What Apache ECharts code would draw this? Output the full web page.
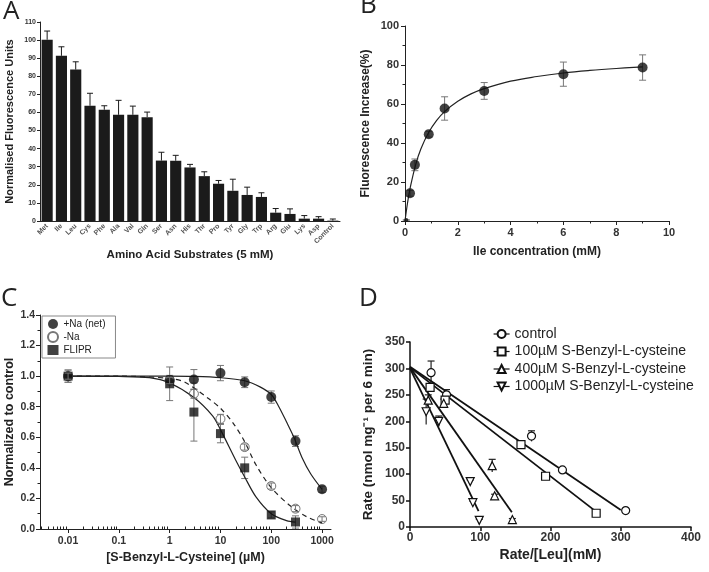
<!DOCTYPE html>
<html><head><meta charset="utf-8">
<script src="https://cdn.jsdelivr.net/npm/echarts@6/dist/echarts.min.js"></script>
<style>html,body{margin:0;padding:0;background:#fff}#c{width:709px;height:572px}</style>
</head><body><div id="c"></div>
<script>
// ---------- Panel A ----------
const aCategories = ['Met','Ile','Leu','Cys','Phe','Ala','Val','Gln','Ser','Asn','His','Thr','Pro','Tyr','Gly','Trp','Arg','Glu','Lys','Asp','Control'];
const aValues = [100.2, 91.3, 83.7, 63.7, 61.5, 58.7, 58.7, 57.4, 33.4, 33.3, 29.6, 24.8, 20.6, 16.7, 14.4, 13.3, 4.6, 3.9, 1.3, 1.3, 0.2];
const aErrors = [4.8, 5.0, 4.3, 6.9, 2.2, 8.0, 4.8, 2.8, 4.6, 3.0, 1.7, 2.4, 1.8, 6.4, 4.3, 2.3, 2.3, 2.8, 1.7, 1.1, 0.9];

// ---------- Panel B ----------
const bConc = [0.05, 0.19, 0.375, 0.9, 1.5, 3, 6, 9];
const bValues = [0.5, 14.2, 28.8, 44.5, 57.7, 66.7, 75.3, 78.7];
const bErrors = [0, 1.5, 3.0, 1.5, 6.0, 4.3, 6.2, 6.5];
const bFitX = [0, 0.1, 0.2, 0.4, 0.6, 0.9, 1.2, 1.5, 2, 2.5, 3, 4, 5, 6, 7, 8, 9];
const bFitY = [0, 9.6, 17.2, 28.7, 36.9, 45.5, 51.6, 56.1, 61.4, 65.2, 67.9, 71.7, 74.1, 75.9, 77.2, 78.2, 79.0];

// ---------- Panel C ----------
const cConc = [0.01, 1, 3, 10, 30, 100, 300, 1000];
const cNaNet = [1.0, 0.975, 0.978, 1.02, 0.96, 0.863, 0.575, 0.26];
const cNaNetErr = [0.04, 0.03, 0.065, 0.05, 0.035, 0.04, 0.035, 0.02];
const cNoNa = [1.0, 0.97, 0.885, 0.72, 0.536, 0.281, 0.133, 0.065];
const cNoNaErr = [0.02, 0.02, 0.03, 0.03, 0.02, 0.02, 0.02, 0.015];
const cFliprConc = [0.01, 1, 3, 10, 30, 100, 300];
const cFlipr = [1.0, 0.95, 0.765, 0.624, 0.40, 0.092, 0.046];
const cFliprErr = [0.04, 0.11, 0.19, 0.06, 0.07, 0.02, 0.04];
const cFitNaNetX = [0.01, 0.1, 1, 3, 10, 30, 60, 100, 141, 200, 279, 400, 600, 1000];
const cFitNaNetY = [1.0, 1.0, 1.0, 0.998, 0.99, 0.97, 0.93, 0.88, 0.80, 0.70, 0.60, 0.47, 0.36, 0.26];
const cFitNoNaX = [0.01, 0.1, 1, 2, 6, 10, 18, 29, 50, 100, 240, 500, 1000];
const cFitNoNaY = [1.0, 1.0, 0.985, 0.96, 0.85, 0.79, 0.69, 0.58, 0.42, 0.27, 0.15, 0.08, 0.04];
const cFitFliprX = [0.01, 0.1, 0.4, 1, 3, 7, 10, 20, 30, 50, 100, 200, 300];
const cFitFliprY = [1.0, 0.998, 0.99, 0.955, 0.86, 0.74, 0.65, 0.45, 0.34, 0.21, 0.10, 0.055, 0.045];
const cMajorTicks = [0.01, 0.1, 1, 10, 100, 1000];
const cMinorTicks = [0.003,0.004,0.005,0.006,0.007,0.008,0.009,0.02,0.03,0.04,0.05,0.06,0.07,0.08,0.09,0.2,0.3,0.4,0.5,0.6,0.7,0.8,0.9,2,3,4,5,6,7,8,9,20,30,40,50,60,70,80,90,200,300,400,500,600,700,800,900];

// ---------- Panel D ----------
const dNames = ['control', '100µM S-Benzyl-L-cysteine', '400µM S-Benzyl-L-cysteine', '1000µM S-Benzyl-L-cysteine'];
const dX = [
  [30, 52, 173, 217, 307],
  [28.6, 50, 158, 193, 265],
  [26, 48, 117, 120.5, 145.7],
  [23, 41, 85.7, 89.5, 98.6]
];
const dY = [
  [292, 250, 172, 108, 31],
  [264, 240, 156, 96, 26],
  [240, 234, 116, 59, 14],
  [218, 200, 86, 46, 12.5]
];
const dErr = [
  [22, 10, 10, 4, 3],
  [5, 5, 3, 3, 3],
  [10, 8, 12, 3, 2],
  [24, 10, 3, 3, 2]
];
const dFitStart = [[0, 303], [0, 302], [0, 302], [0, 300]];
const dFitEnd = [[300, 32], [264, 30], [145, 28], [97.6, 30]];

// ---------- helpers ----------
const FONT = '"Liberation Sans", Arial, sans-serif';
const zip = (xs, ys) => xs.map((x, i) => [x, ys[i]]);

function errSeries(xi, yi, rows, color, capHalf, lw, bottomCap, z) {
  return {
    type: 'custom', xAxisIndex: xi, yAxisIndex: yi, silent: true, z: z || 2,
    data: rows, encode: { x: 0, y: [1, 2] },
    renderItem: function (params, api) {
      const x = api.value(0), lo = api.value(1), hi = api.value(2);
      const p1 = api.coord([x, lo]), p2 = api.coord([x, hi]);
      const st = { stroke: color, lineWidth: lw };
      const ch = [
        { type: 'line', shape: { x1: p1[0], y1: p1[1], x2: p2[0], y2: p2[1] }, style: st },
        { type: 'line', shape: { x1: p2[0] - capHalf, y1: p2[1], x2: p2[0] + capHalf, y2: p2[1] }, style: st }
      ];
      if (bottomCap) ch.push({ type: 'line', shape: { x1: p1[0] - capHalf, y1: p1[1], x2: p1[0] + capHalf, y2: p1[1] }, style: st });
      return { type: 'group', children: ch };
    }
  };
}
const symErr = (xs, ys, es) => xs.map((x, i) => [x, ys[i] - es[i], ys[i] + es[i]]);

const axLine = { show: true, lineStyle: { color: '#222', width: 1 } };
const nameStyle = (fs) => ({ fontSize: fs, fontWeight: 'bold', color: '#222', fontFamily: FONT });
const lab = (fs, extra) => Object.assign({ fontSize: fs, fontWeight: 'bold', color: '#333', fontFamily: FONT }, extra || {});

const option = {
  animation: false,
  backgroundColor: '#fff',
  title: [
    { text: 'A', left: 3, top: -1 },
    { text: 'B', left: 360, top: -7 },
    { text: 'C', left: 1, top: 286 },
    { text: 'D', left: 359, top: 286 }
  ].map(t => Object.assign(t, { padding: 0, textStyle: { fontSize: 26, fontWeight: 'normal', color: '#222', fontFamily: '"Open Sans", sans-serif' } })),
  grid: [
    { left: 40, top: 22, width: 300, height: 199 },
    { left: 405, top: 26, width: 264, height: 195 },
    { left: 40, top: 315, width: 291, height: 214 },
    { left: 410, top: 342, width: 281, height: 185 }
  ],
  legend: [
    {
      data: ['+Na (net)', '-Na', 'FLIPR'], left: 42, top: 316, orient: 'vertical',
      itemGap: 2, itemWidth: 11, itemHeight: 10, padding: [3, 10, 3, 5],
      borderColor: '#888', borderWidth: 1, backgroundColor: '#fff',
      textStyle: { fontSize: 10, color: '#222', fontFamily: FONT }
    },
    {
      data: dNames, left: 488, top: 322, orient: 'vertical',
      itemGap: 3.5, itemWidth: 16, itemHeight: 10,
      textStyle: { fontSize: 14, color: '#222', fontFamily: FONT },
      lineStyle: { color: '#111', width: 1.2, opacity: 1 }
    }
  ],
  xAxis: [
    {
      type: 'category', gridIndex: 0, data: aCategories,
      axisLine: axLine, axisTick: { alignWithLabel: true, length: 3, lineStyle: { color: '#222' } },
      axisLabel: lab(7, { interval: 0, rotate: 45, color: '#555', margin: 4 }),
      name: 'Amino Acid Substrates (5 mM)', nameLocation: 'middle', nameGap: 28, nameTextStyle: nameStyle(11.5)
    },
    {
      type: 'value', gridIndex: 1, min: 0, max: 10, interval: 2,
      axisLine: axLine, axisTick: { length: 4, lineStyle: { color: '#222' } },
      minorTick: { show: true, splitNumber: 2, length: 2.5, lineStyle: { color: '#222' } },
      splitLine: { show: false }, axisLabel: lab(11, { margin: 6 }),
      name: 'Ile concentration (mM)', nameLocation: 'middle', nameGap: 25, nameTextStyle: nameStyle(12)
    },
    {
      type: 'log', gridIndex: 2, min: 0.0028, max: 1500,
      axisLine: axLine,
      axisTick: { customValues: cMajorTicks, length: 4, lineStyle: { color: '#222' } },
      axisLabel: lab(10.5, { customValues: cMajorTicks, margin: 7, formatter: v => String(+v.toPrecision(3)) }),
      splitLine: { show: false },
      name: '[S-Benzyl-L-Cysteine] (µM)', nameLocation: 'middle', nameGap: 22, nameTextStyle: nameStyle(12.5)
    },
    {
      type: 'log', gridIndex: 2, min: 0.0028, max: 1500, position: 'bottom',
      axisLine: { show: false }, axisLabel: { show: false }, splitLine: { show: false },
      axisTick: { customValues: cMinorTicks, length: 2.5, inside: true, lineStyle: { color: '#222' } }
    },
    {
      type: 'value', gridIndex: 3, min: 0, max: 400, interval: 100,
      axisLine: { show: true, lineStyle: { color: '#111', width: 1.5 } },
      axisTick: { length: 4, lineStyle: { color: '#111', width: 1.5 } },
      splitLine: { show: false }, axisLabel: lab(12, { margin: 5 }),
      name: 'Rate/[Leu](mM)', nameLocation: 'middle', nameGap: 21, nameTextStyle: nameStyle(14)
    }
  ],
  yAxis: [
    {
      type: 'value', gridIndex: 0, min: 0, max: 110, interval: 10,
      axisLine: axLine, axisTick: { show: true, length: 3, lineStyle: { color: '#222' } },
      splitLine: { show: false }, axisLabel: lab(7, { margin: 4 }),
      name: 'Normalised Fluorescence Units', nameLocation: 'middle', nameGap: 25, nameTextStyle: nameStyle(11)
    },
    {
      type: 'value', gridIndex: 1, min: 0, max: 100, interval: 20,
      axisLine: axLine, axisTick: { show: true, length: 4, lineStyle: { color: '#222' } },
      minorTick: { show: true, splitNumber: 2, length: 2.5, lineStyle: { color: '#222' } },
      splitLine: { show: false }, axisLabel: lab(11, { margin: 6 }),
      name: 'Fluorescence Increase(%)', nameLocation: 'middle', nameGap: 33, nameTextStyle: nameStyle(12)
    },
    {
      type: 'value', gridIndex: 2, min: 0, max: 1.4, interval: 0.2,
      axisLine: axLine, axisTick: { show: true, length: 4, lineStyle: { color: '#222' } },
      minorTick: { show: true, splitNumber: 2, length: 2.5, lineStyle: { color: '#222' } },
      splitLine: { show: false }, axisLabel: lab(10.5, { margin: 5, formatter: v => v.toFixed(1) }),
      name: 'Normalized to control', nameLocation: 'middle', nameGap: 22, nameTextStyle: nameStyle(12.5)
    },
    {
      type: 'value', gridIndex: 3, min: 0, max: 350, interval: 50,
      axisLine: { show: true, lineStyle: { color: '#111', width: 1.5 } },
      axisTick: { show: true, length: 4, lineStyle: { color: '#111', width: 1.5 } },
      splitLine: { show: false }, axisLabel: lab(12, { margin: 5 }),
      name: 'Rate (nmol mg⁻¹ per 6 min)', nameLocation: 'middle', nameGap: 35, nameTextStyle: nameStyle(13.5)
    }
  ],
  series: []
};

const S = option.series;
// A
S.push({ type: 'bar', name: 'A', xAxisIndex: 0, yAxisIndex: 0, data: aValues, barWidth: '78%', itemStyle: { color: '#1b1b1b' }, z: 2 });
S.push(errSeries(0, 0, aValues.map((v, i) => [i, v, v + aErrors[i]]), '#1b1b1b', 3, 1, false, 1));
// B
S.push({ type: 'line', name: 'B fit', xAxisIndex: 1, yAxisIndex: 1, data: zip(bFitX, bFitY), smooth: 0.4, symbol: 'none', lineStyle: { color: '#222', width: 1.2 }, z: 2 });
S.push(errSeries(1, 1, symErr(bConc, bValues, bErrors), '#777', 3.5, 1, true, 1));
S.push({ type: 'scatter', name: 'B data', xAxisIndex: 1, yAxisIndex: 1, data: zip(bConc, bValues),
  symbol: 'circle', symbolSize: (v, p) => (p.dataIndex === 0 ? 4 : 10), itemStyle: { color: '#111' }, z: 3 });
// C curves
S.push({ type: 'line', name: '+Na fit', xAxisIndex: 2, yAxisIndex: 2, data: zip(cFitNaNetX, cFitNaNetY), smooth: 0.3, symbol: 'none', lineStyle: { color: '#222', width: 1.2 }, z: 2 });
S.push({ type: 'line', name: '-Na fit', xAxisIndex: 2, yAxisIndex: 2, data: zip(cFitNoNaX, cFitNoNaY), smooth: 0.3, symbol: 'none', lineStyle: { color: '#222', width: 1.2, type: [5, 4] }, z: 2 });
S.push({ type: 'line', name: 'FLIPR fit', xAxisIndex: 2, yAxisIndex: 2, data: zip(cFitFliprX, cFitFliprY), smooth: 0.3, symbol: 'none', lineStyle: { color: '#222', width: 1.2 }, z: 2 });
S.push(errSeries(2, 2, symErr(cConc, cNaNet, cNaNetErr), '#777', 3.5, 1, true, 1));
S.push(errSeries(2, 2, symErr(cFliprConc, cFlipr, cFliprErr), '#777', 3.5, 1, true, 1));
S.push({ type: 'scatter', name: '+Na (net)', xAxisIndex: 2, yAxisIndex: 2, data: zip(cConc, cNaNet), symbol: 'circle', symbolSize: 10, itemStyle: { color: '#111' }, z: 3 });
S.push({ type: 'scatter', name: '-Na', xAxisIndex: 2, yAxisIndex: 2, data: zip(cConc, cNoNa), symbol: 'circle', symbolSize: 9, itemStyle: { color: 'rgba(255,255,255,0)', borderColor: '#555', borderWidth: 1 }, z: 3 });
S.push(errSeries(2, 2, symErr(cConc, cNoNa, cNoNaErr), '#777', 3.5, 1, true, 4));
S.push({ type: 'scatter', name: 'FLIPR', xAxisIndex: 2, yAxisIndex: 2, data: zip(cFliprConc, cFlipr), symbol: 'rect', symbolSize: 9, itemStyle: { color: '#111' }, z: 3 });
// D
const dSymbols = ['circle', 'rect', 'triangle', 'triangle'];
const dRot = [0, 0, 0, 180];
for (let k = 0; k < 4; k++) {
  S.push({ type: 'line', name: dNames[k] + ' fit', xAxisIndex: 4, yAxisIndex: 3, data: [dFitStart[k], dFitEnd[k]], symbol: 'none', lineStyle: { color: '#111', width: 1.8 }, z: 2 });
  S.push(errSeries(4, 3, symErr(dX[k], dY[k], dErr[k]), '#222', 3.5, 1.2, false, 1));
}
for (let k = 0; k < 4; k++) {
  S.push({ type: 'line', name: dNames[k], xAxisIndex: 4, yAxisIndex: 3, data: zip(dX[k], dY[k]),
    symbol: dSymbols[k], symbolRotate: dRot[k], symbolSize: 8, showAllSymbol: true,
    lineStyle: { opacity: 0, width: 0 }, itemStyle: { color: '#fff', borderColor: '#111', borderWidth: 1.2 }, z: 3 });
}

const chart = echarts.init(document.getElementById('c'), null, { renderer: 'canvas' });
chart.setOption(option);
</script>
</body></html>
